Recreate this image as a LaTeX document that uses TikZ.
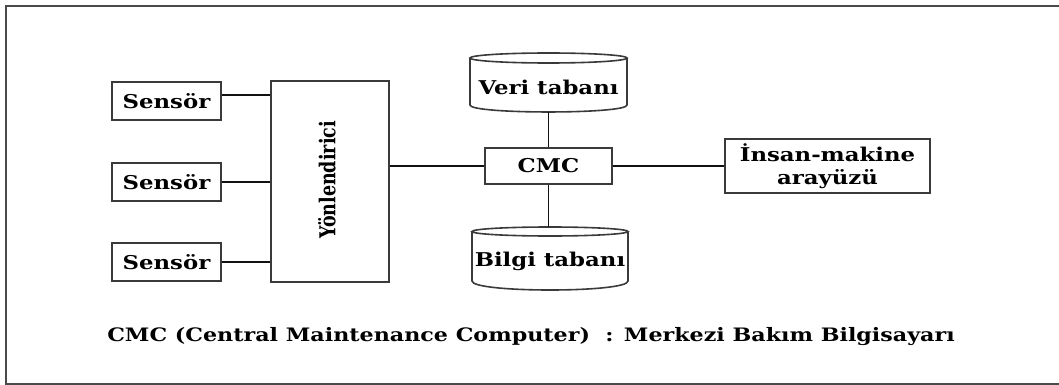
\documentclass[tikz,border=0pt]{standalone}
\usepackage{graphicx}
\usepackage{fontspec}
\newfontfamily\dfont{DejaVu Serif Bold}[FakeStretch=1.2]
\newfontfamily\rfont{DejaVu Serif Bold}
\newcommand\lab{\dfont\fontsize{19}{23}\selectfont}
\newcommand\caplab{\dfont\fontsize{18.5}{22}\selectfont}
\newcommand\rotlab{\rfont\fontsize{17.5}{21}\selectfont}
\definecolor{boxc}{HTML}{3A3A3A}
\definecolor{wirec}{HTML}{111111}
\definecolor{framec}{HTML}{4A4A4A}
\begin{document}
\begin{tikzpicture}[x=1pt,y=-1pt,
  box/.style={draw=boxc, line width=1.6pt, fill=white, inner sep=0pt, font=\lab},
  wire/.style={draw=wirec, line width=1.8pt},
  cyl/.style={draw=boxc, line width=1.6pt},
  frame/.style={draw=framec, line width=1.8pt},
  txt/.style={font=\lab, inner sep=0pt}]
\useasboundingbox (0,0) rectangle (1059,385);
\draw[frame] (1060,6) -- (6,6) -- (6,384) -- (1060,384);
% sensors
\node[box, minimum width=109pt, minimum height=38pt] (s1) at (166.5,101) {Sensör};
\node[box, minimum width=109pt, minimum height=38pt] (s2) at (166.5,182) {Sensör\hspace{13pt}};
\node[box, minimum width=109pt, minimum height=38pt] (s3) at (166.5,262) {Sensör\hspace{13pt}};
% router
\node[box, minimum width=118pt, minimum height=201pt] (yon) at (330,181.5) {};
\node[font=\rotlab, inner sep=0pt, rotate=90] (yont) at (327,180) {\scalebox{1}[1.25]{Yönlendirici}};
% CMC
\node[box, minimum width=127pt, minimum height=36pt] (cmc) at (548.5,166) {CMC};
% HMI
\node[box, minimum width=205pt, minimum height=54pt, align=center] (ins) at (827.5,166) {İnsan-makine\\arayüzü};
% databases
\node[minimum width=157pt, minimum height=59pt, inner sep=0pt] (veri) at (548.5,82.5) {};
\node[txt] (verit) at (548.5,87) {Veri tabanı};
\draw[cyl] (470,58) -- (470,105) .. controls (470,114.3) and (627,114.3) .. (627,105) -- (627,58);
\draw[cyl] (548.5,58) ellipse [x radius=78.5, y radius=5];
\node[minimum width=156pt, minimum height=63pt, inner sep=0pt] (bilgi) at (550,258.5) {};
\node[txt] (bilgit) at (550,261) {Bilgi tabanı};
\draw[cyl] (472,231.5) -- (472,281) .. controls (472,293) and (628,293) .. (628,281) -- (628,231.5);
\draw[cyl] (550,231.5) ellipse [x radius=78, y radius=4.5];
% connectors
\draw[wire] ([yshift=6pt]s1.east) -- ([yshift=6pt]s1.east -| yon.west);
\draw[wire] (s2.east) -- (s2.east -| yon.west);
\draw[wire] (s3.east) -- (s3.east -| yon.west);
\draw[wire] (yon.east |- cmc.west) -- (cmc.west);
\draw[wire] (veri.south) -- (cmc.north);
\draw[wire] (cmc.south) -- (cmc.south |- bilgi.north);
\draw[wire] (cmc.east) -- (ins.west);
% caption
\node[font=\caplab, inner sep=0pt] (cap) at (531,337) {CMC (Central Maintenance Computer)\ \ : Merkezi Bakım Bilgisayarı};
\end{tikzpicture}
\end{document}
